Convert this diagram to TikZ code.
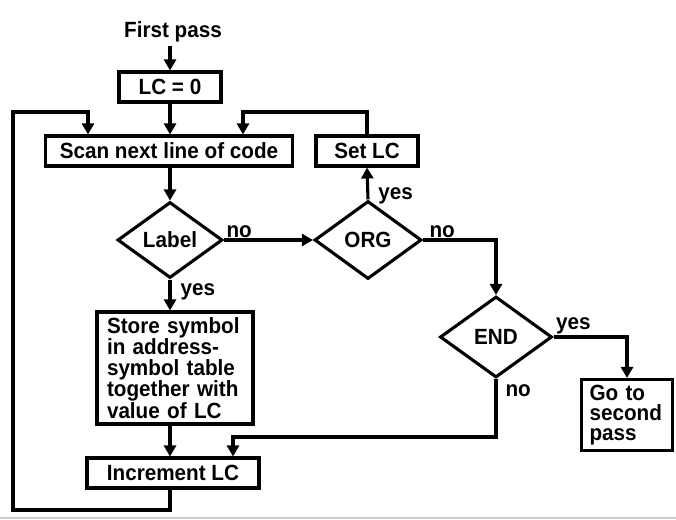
\documentclass[tikz,border=0pt]{standalone}
\usepackage{fontspec}
\setmainfont{Liberation Sans}[FakeStretch=0.94]
\usetikzlibrary{shapes.geometric,arrows.meta}

\begin{document}
\begin{tikzpicture}[
        x=1pt, y=-1pt,
        line width=3.1pt,
        every node/.style={font=\bfseries\fontsize{22}{20.2}\selectfont, inner sep=2pt},
        box/.style={draw, rectangle, minimum height=30pt},
        test/.style={draw, diamond, aspect=1.4},
        lbl/.style={inner sep=1pt},
        arr/.style={-{Triangle[length=11pt,width=12pt]}}
    ]
    \useasboundingbox (0,0) rectangle (676,519);
    % nodes
    \node (first) at (173,32) {First pass};
    \node[box, minimum width=102pt] (lc) at (170,87) {LC = 0};
    \node[box, minimum width=247pt] (scan) at (169,151) {Scan next line of code};
    \node[box, minimum width=102pt] (setlc) at (367,151) {Set LC};
    \node[test, minimum width=105pt, minimum height=76pt] (label) at (170,240) {Label};
    \node[test, minimum width=107pt, minimum height=78pt] (org) at (368,240) {ORG};
    \node[test, minimum width=112pt, minimum height=81pt] (endd) at (496,337) {END};
    \node[box, text width=136pt, align=left, inner xsep=10pt, inner ysep=1pt, minimum height=112pt] (store) at (175,368)
        {Store symbol\\in address-\\symbol table\\together with\\value of LC};
    \node[box, text width=75pt, align=left, inner xsep=8pt, inner ysep=1pt, minimum height=71pt] (go) at (627,415)
        {Go to\\second\\pass};
    \node[box, minimum width=172pt] (inc) at (173,473) {Increment LC};
    % corners of the loops
    \coordinate (botl) at (13,510);
    \coordinate (topl) at (13,112);
    \coordinate (inl) at (88,112);
    \coordinate (inr) at (243,112);
    \coordinate (mid) at (233,437);
    % connectors
    \draw[arr] (first.south -| lc.north) -- (lc.north);
    \draw[arr] (lc.south) -- (lc.south |- scan.north);
    \draw[arr] (inc.south -| lc.south) |- (botl) -- (topl) -- (inl) -- (inl |- scan.north);
    \draw[arr] (setlc.north) |- (inr) -- (inr |- scan.north);
    \draw[arr] (scan.south -| label.north) -- (label.north);
    \draw[arr] (label.east) -- node[lbl, above right, pos=0] {no} (org.west);
    \draw[arr] (org.north) -- node[lbl, right, pos=0.2, xshift=8pt, yshift=-3pt] {yes} (setlc.south);
    \draw[arr] (org.east) -| node[lbl, above right, pos=0, xshift=4pt] {no} (endd.north);
    \draw[arr] (endd.east) -| node[lbl, above right, pos=0] {yes} (go.north);
    \draw[arr] (endd.south) |- node[lbl, below right, pos=0, xshift=7pt, yshift=-3pt] {no} (mid) -- (mid |- inc.north);
    \draw[arr] (label.south) -- node[lbl, right, pos=0.3, xshift=8pt, yshift=-3pt] {yes} (label.south |- store.north);
    \draw[arr] (store.south -| lc.south) -- (lc.south |- inc.north);
    % bottom rule
    \draw[line width=1.5pt, black!20] (0,518) -- (676,518);
\end{tikzpicture}
\end{document}
